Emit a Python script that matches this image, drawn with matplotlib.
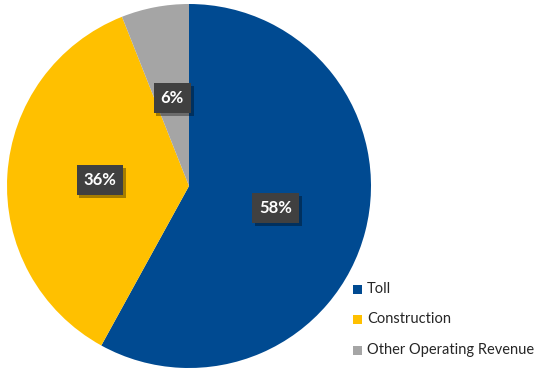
import matplotlib
matplotlib.use("Agg")
import matplotlib.pyplot as plt
from matplotlib.patches import Rectangle
import matplotlib.patheffects as pe

categories = ["Toll", "Construction", "Other Operating Revenue"]
shares = [58, 36, 6]
colors = ["#004A91", "#FFC000", "#A5A5A5"]

W, H = 534, 369
fig = plt.figure(figsize=(W / 100, H / 100), dpi=100)
fig.patch.set_facecolor("white")

# pie axes: circle centred at (189, 186) px with radius 182 px
cx, cy, r = 189, 186, 182
ax = fig.add_axes([(cx - r) / W, (H - cy - r) / H, 2 * r / W, 2 * r / H])

wedges, texts, autotexts = ax.pie(
    shares, colors=colors, startangle=90, counterclock=False, radius=1.0,
    autopct="%d%%", pctdistance=0.49,
    wedgeprops=dict(linewidth=0),
    textprops=dict(color="white", fontsize=12, fontweight="bold", family="Lato"),
)
ax.set_xlim(-1, 1)
ax.set_ylim(-1, 1)
ax.set_aspect("equal")
ax.axis("off")

for t in autotexts:
    t.set_bbox(dict(boxstyle="square,pad=0.42", facecolor="#404040", edgecolor="none"))
    t.get_bbox_patch().set_path_effects([
        pe.SimplePatchShadow(offset=(2, -2), shadow_rgbFace="black", alpha=0.35),
        pe.Normal(),
    ])

# legend drawn in figure pixels
legend_rows = [289, 319, 350]
for name, col, y in zip(categories, colors, legend_rows):
    fig.patches.append(Rectangle((353 / W, (H - y - 4.5) / H), 9 / W, 9 / H,
                                 transform=fig.transFigure, facecolor=col, edgecolor="none"))
    fig.text(367 / W, (H - y) / H, name, fontsize=10.5, family="Lato",
             color="#262626", va="center", ha="left")

fig.savefig("out.png", dpi=100, facecolor="white")
